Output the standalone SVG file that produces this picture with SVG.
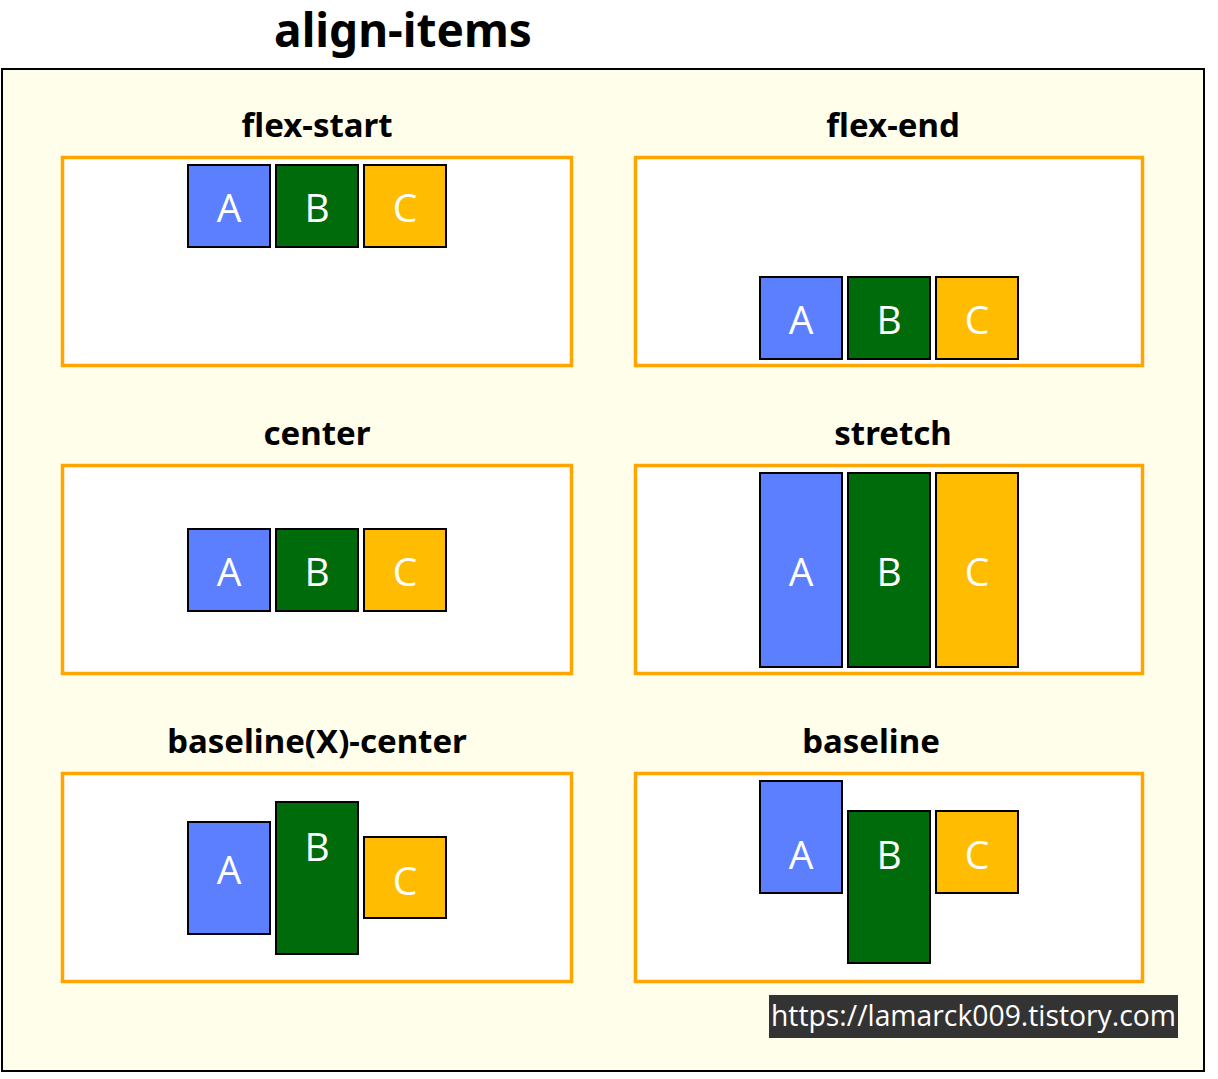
<svg xmlns="http://www.w3.org/2000/svg" width="1218" height="1079" viewBox="0 0 1218 1079">
<style>
.title{font-family:"Noto Sans","Open Sans",sans-serif;font-weight:bold;font-size:46px;fill:#000;text-anchor:middle}
.ptitle{font-family:"Noto Sans","Open Sans",sans-serif;font-weight:bold;font-size:33px;fill:#000;text-anchor:middle}
.panel{fill:#fff;stroke:#ffa500;stroke-width:3.5}
.box{stroke:#000;stroke-width:2}
.a{fill:#5b7fff}.b{fill:#006b0a}.c{fill:#ffbc00}
.lt{font-family:"Open Sans","Noto Sans",sans-serif;font-size:39px;fill:#fff;text-anchor:middle}
.wm{font-family:"Open Sans","Noto Sans",sans-serif;font-size:28.5px;fill:#fff}
</style>
<rect x="0" y="0" width="1218" height="1079" fill="#fff"/>
<text class="title" x="403" y="47">align-items</text>
<rect x="2" y="69" width="1202" height="1002" fill="#fffeeb" stroke="#000" stroke-width="2"/>

<g id="flex-start">
<text class="ptitle" x="317" y="137">flex-start</text>
<rect class="panel" x="62.5" y="157.5" width="509" height="208"/>
<rect class="box a" x="188" y="165" width="82" height="82"/><text class="lt" x="229" y="222">A</text>
<rect class="box b" x="276" y="165" width="82" height="82"/><text class="lt" x="317" y="222">B</text>
<rect class="box c" x="364" y="165" width="82" height="82"/><text class="lt" x="405" y="222">C</text>
</g>

<g id="flex-end">
<text class="ptitle" x="893" y="137">flex-end</text>
<rect class="panel" x="635.5" y="157.5" width="507" height="208"/>
<rect class="box a" x="760" y="277" width="82" height="82"/><text class="lt" x="801" y="334">A</text>
<rect class="box b" x="848" y="277" width="82" height="82"/><text class="lt" x="889" y="334">B</text>
<rect class="box c" x="936" y="277" width="82" height="82"/><text class="lt" x="977" y="334">C</text>
</g>

<g id="center">
<text class="ptitle" x="317" y="445">center</text>
<rect class="panel" x="62.5" y="465.5" width="509" height="208"/>
<rect class="box a" x="188" y="529" width="82" height="82"/><text class="lt" x="229" y="586">A</text>
<rect class="box b" x="276" y="529" width="82" height="82"/><text class="lt" x="317" y="586">B</text>
<rect class="box c" x="364" y="529" width="82" height="82"/><text class="lt" x="405" y="586">C</text>
</g>

<g id="stretch">
<text class="ptitle" x="893" y="445">stretch</text>
<rect class="panel" x="635.5" y="465.5" width="507" height="208"/>
<rect class="box a" x="760" y="473" width="82" height="194"/><text class="lt" x="801" y="586">A</text>
<rect class="box b" x="848" y="473" width="82" height="194"/><text class="lt" x="889" y="586">B</text>
<rect class="box c" x="936" y="473" width="82" height="194"/><text class="lt" x="977" y="586">C</text>
</g>

<g id="baseline-x-center">
<text class="ptitle" x="317" y="753">baseline(X)-center</text>
<rect class="panel" x="62.5" y="773.5" width="509" height="208"/>
<rect class="box a" x="188" y="822" width="82" height="112"/><text class="lt" x="229" y="884">A</text>
<rect class="box b" x="276" y="802" width="82" height="152"/><text class="lt" x="317" y="861">B</text>
<rect class="box c" x="364" y="837" width="82" height="81"/><text class="lt" x="405" y="895">C</text>
</g>

<g id="baseline">
<text class="ptitle" x="871" y="753">baseline</text>
<rect class="panel" x="635.5" y="773.5" width="507" height="208"/>
<rect class="box a" x="760" y="781" width="82" height="112"/><text class="lt" x="801" y="869">A</text>
<rect class="box b" x="848" y="811" width="82" height="152"/><text class="lt" x="889" y="869">B</text>
<rect class="box c" x="936" y="811" width="82" height="82"/><text class="lt" x="977" y="869">C</text>
</g>

<g id="watermark">
<rect x="769" y="995" width="409" height="43" fill="#333"/>
<text class="wm" x="771" y="1026" textLength="405" lengthAdjust="spacingAndGlyphs">https://lamarck009.tistory.com</text>
</g>
</svg>
